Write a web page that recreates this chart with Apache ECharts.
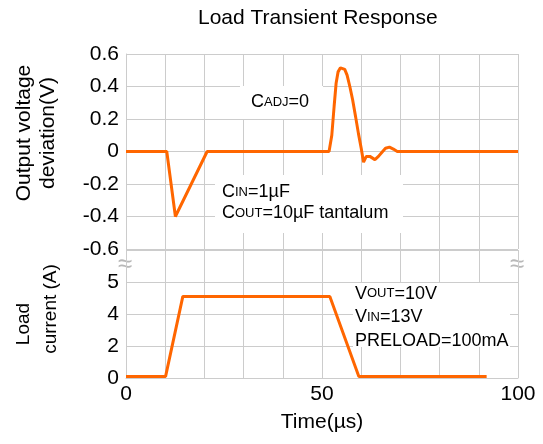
<!DOCTYPE html>
<html>
<head>
<meta charset="utf-8">
<script src="https://cdn.jsdelivr.net/npm/echarts@6/dist/echarts.min.js"></script>
<style>
  html, body { margin: 0; padding: 0; background: #fff; }
  #chart { width: 543px; height: 444px; }
</style>
</head>
<body>
<div id="chart"></div>
<script>
// 输出电压偏差 (V) 随时间 (µs)
var vTime = [0, 10.4, 12.6, 20.7, 51.8, 52.5, 53.1, 53.6, 54.1, 54.7, 55.2, 55.8, 56.4, 57.1, 57.8, 58.6, 59.3, 60.0, 60.6, 61.3, 62.2, 63.5, 64.4, 65.3, 66.2, 67.2, 68.2, 69.2, 100];
var vDev = [0, 0, -0.4, 0, 0, 0.1, 0.28, 0.42, 0.49, 0.515, 0.52, 0.505, 0.47, 0.4, 0.32, 0.21, 0.11, 0.02, -0.066, -0.03, -0.03, -0.05, -0.03, -0.005, 0.02, 0.027, 0.015, 0, 0];
// 负载电流 (A)
var iTime = [0, 10.1, 14.5, 52.0, 59.4, 92];
var iLoad = [0.1, 0.1, 5.1, 5.1, 0.1, 0.1];
// 下半部分的刻度标签 (0,2,4,6 的位置上标为 0,2,4,5)
var loadTickLabels = ['0', '2', '4', '5', ''];
var timeTickLabels = { 0: '0', 50: '50', 100: '100' };

var FONT = 'Liberation Sans, Arial, sans-serif';
var GRID_COLOR = '#cccccc';

function pairs(xs, ys) {
    var out = [];
    for (var i = 0; i < xs.length; i++) out.push([xs[i], ys[i]]);
    return out;
}

var myChart = echarts.init(document.getElementById('chart'));

var option = {
    animation: false,
    title: {
        text: 'Load Transient Response',
        left: 198,
        top: 8,
        padding: 0,
        textStyle: { fontFamily: FONT, fontSize: 21, fontWeight: 'normal', color: '#000' }
    },
    grid: [
        { left: 126, right: 25, top: 54, height: 195 },
        { left: 126, right: 25, top: 250, height: 128 }
    ],
    xAxis: [
        {
            gridIndex: 0, type: 'value', min: 0, max: 100, interval: 10,
            axisLine: { show: false }, axisTick: { show: false }, axisLabel: { show: false },
            splitLine: { show: true, lineStyle: { color: GRID_COLOR, width: 1 } }
        },
        {
            gridIndex: 1, type: 'value', min: 0, max: 100, interval: 10,
            axisLine: { show: true, lineStyle: { color: GRID_COLOR } },
            axisTick: { show: false },
            axisLabel: {
                margin: 6, fontFamily: FONT, fontSize: 21, color: '#000',
                formatter: function (v) { return timeTickLabels[v] || ''; }
            },
            splitLine: { show: true, lineStyle: { color: GRID_COLOR, width: 1 } },
            name: 'Time(\u00b5s)',
            nameLocation: 'middle',
            nameGap: 34,
            nameTextStyle: { fontFamily: FONT, fontSize: 21, color: '#000' }
        }
    ],
    yAxis: [
        {
            gridIndex: 0, type: 'value', min: -0.6, max: 0.6, interval: 0.2,
            axisLine: { show: true, lineStyle: { color: GRID_COLOR } },
            axisTick: { show: false },
            axisLabel: { margin: 7, fontFamily: FONT, fontSize: 21, color: '#000' },
            splitLine: { show: true, lineStyle: { color: GRID_COLOR, width: 1 } }
        },
        {
            gridIndex: 1, type: 'value', min: 0, max: 8, interval: 2,
            axisLine: { show: true, lineStyle: { color: GRID_COLOR } },
            axisTick: { show: false },
            axisLabel: {
                margin: 7, fontFamily: FONT, fontSize: 21, color: '#000',
                formatter: function (v) { return loadTickLabels[Math.round(v / 2)]; }
            },
            splitLine: { show: true, lineStyle: { color: GRID_COLOR, width: 1 } }
        }
    ],
    series: [
        {
            name: 'Output voltage deviation',
            type: 'line', xAxisIndex: 0, yAxisIndex: 0,
            data: pairs(vTime, vDev),
            showSymbol: false,
            lineStyle: { color: '#ff6600', width: 3 },
            itemStyle: { color: '#ff6600' }
        },
        {
            name: 'Load current',
            type: 'line', xAxisIndex: 1, yAxisIndex: 1,
            data: pairs(iTime, iLoad),
            showSymbol: false,
            lineStyle: { color: '#ff6600', width: 3 },
            itemStyle: { color: '#ff6600' }
        }
    ],
    graphic: [
        // 纵轴名称
        { type: 'text', x: 24, y: 133, rotation: Math.PI / 2,
          style: { text: 'Output voltage', font: '21px ' + FONT, fill: '#000', align: 'center', verticalAlign: 'middle' } },
        { type: 'text', x: 48, y: 133, rotation: Math.PI / 2,
          style: { text: 'deviation(V)', font: '21px ' + FONT, fill: '#000', align: 'center', verticalAlign: 'middle' } },
        { type: 'text', x: 24, y: 324, rotation: Math.PI / 2,
          style: { text: 'Load', font: '19px ' + FONT, fill: '#000', align: 'center', verticalAlign: 'middle' } },
        { type: 'text', x: 51, y: 309, rotation: Math.PI / 2,
          style: { text: 'current (A)', font: '19px ' + FONT, fill: '#000', align: 'center', verticalAlign: 'middle' } },
        // 坐标轴断开符号
        { type: 'text', x: 125, y: 265,
          style: { text: '\u2248', font: '26px ' + FONT, fill: '#b8b8b8', align: 'center', verticalAlign: 'middle' } },
        { type: 'text', x: 517, y: 265,
          style: { text: '\u2248', font: '26px ' + FONT, fill: '#b8b8b8', align: 'center', verticalAlign: 'middle' } },
        // 注释文本
        { type: 'rect', shape: { x: 240, y: 86, width: 83, height: 33 }, style: { fill: '#fff' }, z: 10 },
        { type: 'text', x: 251, y: 102, z: 11,
          style: {
              text: 'C{s|ADJ}=0',
              font: '18px ' + FONT, fill: '#000', verticalAlign: 'middle',
              rich: { s: { fontSize: 13, fontFamily: FONT, fill: '#000' } }
          } },
        { type: 'rect', shape: { x: 215, y: 175, width: 188, height: 58 }, style: { fill: '#fff' }, z: 10 },
        { type: 'text', x: 222, y: 182, z: 11,
          style: {
              text: 'C{s|IN}=1\u00b5F\nC{s|OUT}=10\u00b5F tantalum',
              font: '18px ' + FONT, fill: '#000', lineHeight: 21,
              rich: { s: { fontSize: 13, fontFamily: FONT, fill: '#000', lineHeight: 21 } }
          } },
        { type: 'rect', shape: { x: 353, y: 283, width: 157, height: 64 }, style: { fill: '#fff' }, z: 10 },
        { type: 'text', x: 355, y: 282, z: 11,
          style: {
              text: 'V{s|OUT}=10V\nV{s|IN}=13V\nPRELOAD=100mA',
              font: '18px ' + FONT, fill: '#000', lineHeight: 23.5,
              rich: { s: { fontSize: 13, fontFamily: FONT, fill: '#000', lineHeight: 23.5 } }
          } }
    ]
};

myChart.setOption(option);
</script>
</body>
</html>
